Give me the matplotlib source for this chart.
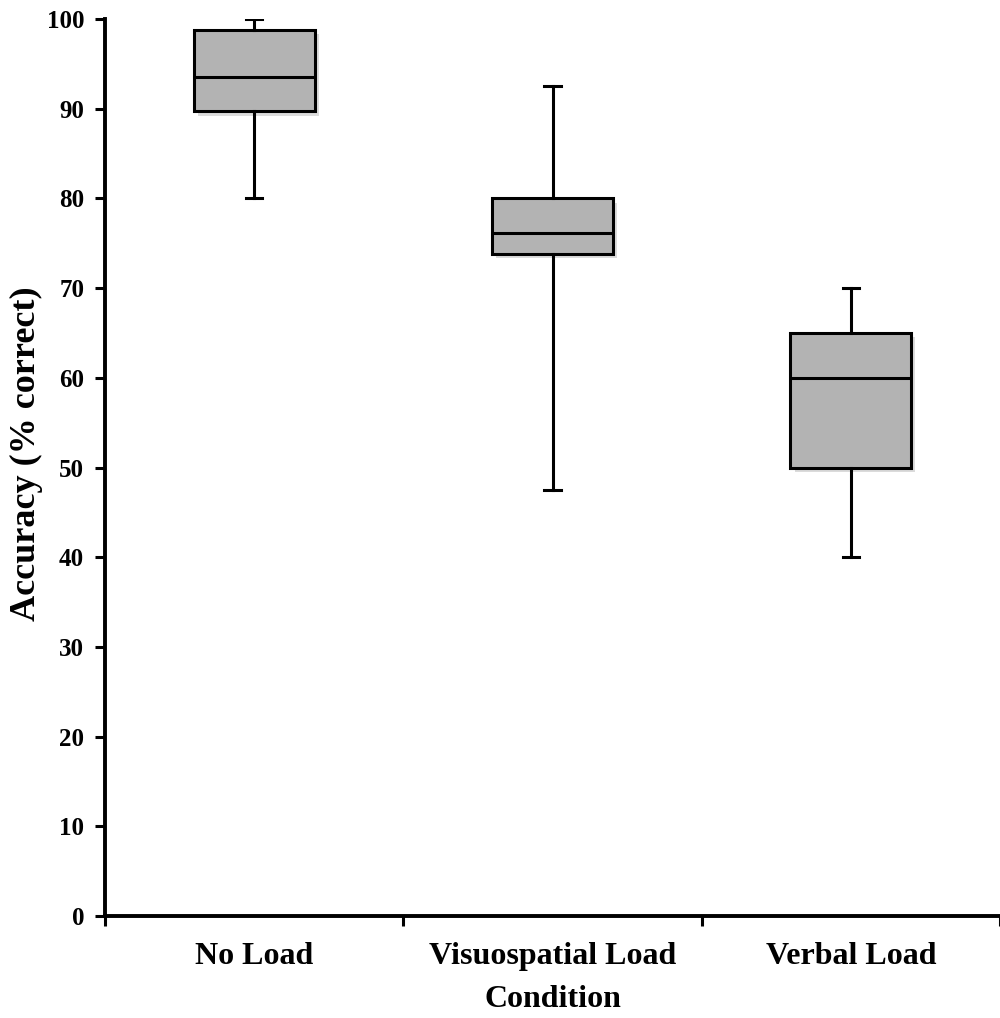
import matplotlib
matplotlib.use("Agg")
import matplotlib.pyplot as plt
import matplotlib.patheffects as pe
from matplotlib.ticker import FixedLocator

categories = ["No Load", "Visuospatial Load", "Verbal Load"]
whislo = [80.0, 47.5, 40.0]
q1 = [89.7, 73.8, 50.0]
med = [93.5, 76.2, 60.0]
q3 = [98.8, 80.0, 65.0]
whishi = [100.0, 92.5, 70.0]
yticks = list(range(0, 101, 10))

plt.rcParams['font.family'] = ['Liberation Serif', 'DejaVu Serif']
plt.rcParams['font.weight'] = 'bold'

fig = plt.figure(figsize=(10, 10.18), dpi=100)
ax = fig.add_axes([0.105, 0.1002, 0.895, 0.8811])

stats = []
for i, c in enumerate(categories):
    stats.append(dict(label=c, whislo=whislo[i], q1=q1[i], med=med[i],
                      q3=q3[i], whishi=whishi[i], fliers=[]))

lw = 2.2
bp = ax.bxp(stats, positions=[1, 2, 3], widths=0.405, patch_artist=True,
            showfliers=False,
            boxprops=dict(facecolor="#b3b3b3", edgecolor="black", linewidth=lw),
            medianprops=dict(color="black", linewidth=lw),
            whiskerprops=dict(color="black", linewidth=lw),
            capprops=dict(color="black", linewidth=lw),
            capwidths=0.055)
for b in bp['boxes']:
    b.set_path_effects([pe.SimplePatchShadow(offset=(3, -3), shadow_rgbFace="#999999", alpha=0.35),
                        pe.Normal()])

ax.set_xlim(0.5, 3.5)
ax.set_ylim(0, 100)
ax.set_yticks(yticks)
ax.set_yticklabels([str(v) for v in yticks], fontsize=18, fontweight='bold')
ax.set_xticks([1, 2, 3])
ax.set_xticklabels(categories, fontsize=23, fontweight='bold')
ax.xaxis.set_minor_locator(FixedLocator([0.5, 1.5, 2.5, 3.5]))
ax.tick_params(axis='x', which='major', length=0, pad=19)
ax.tick_params(axis='x', which='minor', length=7, width=2.2, direction='out')
ax.tick_params(axis='y', which='major', length=7, width=2.2, direction='out', pad=8)

for s in ['top', 'right']:
    ax.spines[s].set_visible(False)
for s in ['left', 'bottom']:
    ax.spines[s].set_linewidth(2.8)

ax.set_ylabel("Accuracy (% correct)", fontsize=26, fontweight='bold', va='center')
ax.yaxis.set_label_coords(-0.088, 0.515)
ax.set_xlabel("Condition", fontsize=23, fontweight='bold', labelpad=10)

fig.savefig("out.png", dpi=100)
